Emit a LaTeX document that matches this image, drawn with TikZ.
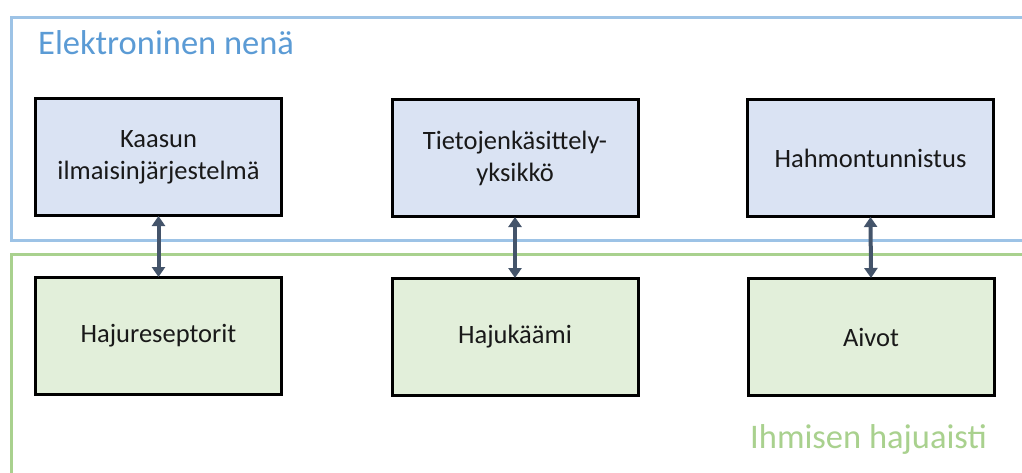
\documentclass[tikz,border=0pt]{standalone}
\usepackage{fontspec}
\setmainfont{Carlito}
\usetikzlibrary{arrows.meta}

\definecolor{nosefill}{HTML}{DAE3F3}
\definecolor{nosefrm}{HTML}{9DC3E6}
\definecolor{nosetxt}{HTML}{5B9BD5}
\definecolor{humfill}{HTML}{E2EFDA}
\definecolor{humfrm}{HTML}{A9D18E}
\definecolor{linkcol}{HTML}{44546A}

\tikzset{
    partbox/.style={draw=black, line width=3pt, minimum width=246pt, minimum height=117pt,
        align=center, font=\fontsize{26.5}{32}\selectfont, text=black!90},
    nosebox/.style={partbox, fill=nosefill},
    humbox/.style={partbox, fill=humfill},
    link/.style={draw=linkcol, line width=4pt, {Triangle[width=13pt,length=10pt]}-{Triangle[width=13pt,length=10pt]}, shorten <=-1pt, shorten >=-1pt}
}

\begin{document}
\begin{tikzpicture}[x=1pt,y=-1pt]
        \clip (0,0) rectangle (1022,473);
        \fill[white] (0,0) rectangle (1022,473);

        \draw[nosefrm, line width=3pt] (11.5,17.5) rectangle (1040,240.5);
        \draw[humfrm, line width=3pt] (11.5,254.5) rectangle (1040,500);

        \node[anchor=base west, inner sep=0pt, text=nosetxt, font=\fontsize{34.5}{40}\selectfont] (nosetitle) at (38,55) {Elektroninen nenä};
        \node[anchor=base west, inner sep=0pt, text=humfrm, font=\fontsize{34.5}{40}\selectfont] (humtitle) at (750,448) {Ihmisen hajuaisti};

        \node[nosebox] (gas) at (158.5,157) {Kaasun\\ilmaisinjärjestelmä};
        \node[nosebox] (cpu) at (515,158) {Tietojenkäsittely-\\yksikkö};
        \node[nosebox] (pattern) at (870.5,158) {Hahmontunnistus};

        \node[humbox] (receptors) at (158.5,336) {Hajureseptorit};
        \node[humbox] (bulb) at (515,337) {Hajukäämi};
        \node[humbox] (brain) at (871,337) {Aivot};

        \draw[link] (gas.south) -- (receptors.north);
        \draw[link] (cpu.south) -- (bulb.north);
        \draw[link] (pattern.south) -- (brain.north);
\end{tikzpicture}
\end{document}
